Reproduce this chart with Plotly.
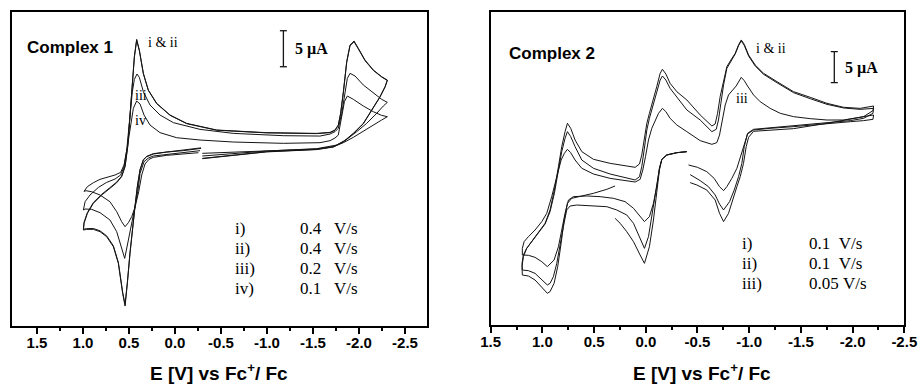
import plotly.graph_objects as go

# ---------------- Complex 1 (potential in V vs Fc+/Fc, current in µA) ----------------
E_c1_i = [-0.283,-0.091,0.091,0.236,0.308,0.344,0.380,0.409,0.435,0.460,0.489,0.518,0.543,0.569,0.616,0.670,0.743,0.815,0.888,0.960,0.996,
          0.989,0.953,0.888,0.797,0.707,0.634,0.580,0.543,0.514,0.489,0.464,0.442,0.417,0.388,0.344,0.290,0.199,0.054,-0.127,-0.453,
          -0.996,-1.540,-1.685,-1.739,-1.775,-1.800,-1.830,-1.866,-1.902,-1.946,-1.993,-2.065,-2.156,-2.246,-2.308,
          -2.283,-2.228,-2.138,-2.047,-1.938,-1.830,-1.721,-1.540,-0.996,-0.634,-0.297]
I_c1_i = [0.23,-0.09,-0.28,-0.56,-0.93,-1.39,-2.78,-5.09,-7.87,-10.65,-14.35,-18.52,-21.67,-19.91,-15.74,-13.43,-12.04,-11.34,-11.02,-11.02,-11.11,
          -10.19,-8.80,-7.41,-6.25,-5.32,-4.54,-3.70,-2.31,0.46,5.09,9.26,12.96,15.37,13.89,10.65,8.33,6.48,4.86,3.70,2.78,
          2.41,2.31,2.45,2.78,3.47,5.09,8.10,12.27,14.58,15.14,14.12,12.50,11.11,10.19,9.72,
          8.80,7.41,5.56,3.70,2.31,1.16,0.46,0.09,-0.23,-0.69,-1.16]

E_c1_ii = E_c1_i
I_c1_ii = [0.30,-0.02,-0.22,-0.50,-0.88,-1.33,-2.70,-5.00,-7.80,-10.55,-14.20,-18.35,-21.45,-19.75,-15.60,-13.30,-11.92,-11.22,-10.90,-10.92,-11.00,
           -10.05,-8.70,-7.30,-6.15,-5.22,-4.45,-3.62,-2.22,0.55,5.15,9.30,12.90,15.25,13.80,10.58,8.28,6.43,4.82,3.66,2.75,
           2.38,2.28,2.42,2.74,3.42,5.02,8.00,12.15,14.48,15.04,14.03,12.42,11.05,10.14,9.66,
           8.74,7.35,5.50,3.65,2.27,1.12,0.42,0.06,-0.26,-0.72,-1.20]

E_c1_iii = [-0.272,-0.091,0.091,0.236,0.290,0.337,0.380,0.402,0.435,0.471,0.507,0.547,0.580,0.634,0.707,0.815,0.906,0.978,0.996,
            0.978,0.924,0.833,0.743,0.652,0.591,0.554,0.525,0.489,0.464,0.442,0.413,0.388,0.344,0.272,0.163,0.018,-0.272,-0.634,-1.178,
            -1.576,-1.685,-1.739,-1.775,-1.812,-1.848,-1.873,-1.902,-1.957,-2.047,-2.156,-2.246,-2.308,
            -2.264,-2.192,-2.083,-1.975,-1.866,-1.757,-1.540,-0.996,-0.634,-0.297]
I_c1_iii = [-0.09,-0.37,-0.56,-0.83,-1.11,-1.62,-3.24,-5.56,-7.87,-9.95,-12.50,-15.05,-13.66,-11.34,-9.72,-8.70,-8.24,-8.19,-8.33,
            -7.18,-6.25,-5.19,-4.49,-4.03,-3.47,-2.31,0.0,4.63,8.10,9.81,10.56,10.09,8.10,6.25,4.86,3.80,2.87,2.31,1.99,
            1.94,2.22,2.55,3.01,5.09,8.33,9.95,10.65,10.28,9.03,7.87,7.04,6.62,
            6.11,5.09,3.70,2.55,1.48,0.69,0.19,-0.14,-0.46,-0.83]

E_c1_iv = [-0.254,-0.091,0.091,0.236,0.283,0.326,0.362,0.395,0.435,0.471,0.507,0.543,0.580,0.634,0.707,0.815,0.906,0.967,0.989,
           0.953,0.888,0.815,0.725,0.652,0.591,0.554,0.518,0.482,0.453,0.417,0.380,0.337,0.272,0.163,-0.018,-0.272,-0.634,-1.178,-1.576,
           -1.685,-1.739,-1.775,-1.812,-1.841,-1.873,-1.938,-2.047,-2.156,-2.246,-2.308,
           -2.246,-2.156,-2.047,-1.938,-1.830,-1.721,-1.540,-0.996,-0.634,-0.297]
I_c1_iv = [-0.37,-0.56,-0.74,-1.02,-1.30,-1.94,-3.47,-5.79,-7.96,-9.26,-10.09,-10.65,-9.95,-8.56,-7.18,-6.25,-5.79,-5.65,-5.74,
           -5.09,-4.54,-4.07,-3.70,-3.47,-3.10,-2.08,0.46,3.70,5.79,6.81,6.39,4.86,3.47,2.41,1.71,1.39,1.11,0.93,1.02,
           1.30,1.67,2.08,4.63,6.71,7.50,7.04,6.11,5.32,4.81,4.63,
           4.17,3.47,2.55,1.76,1.02,0.46,0.14,-0.09,-0.28,-0.46]

# ---------------- Complex 2 ----------------
E_c2_i = [-0.397,-0.300,-0.203,-0.155,-0.132,-0.106,-0.074,-0.035,0.013,0.055,0.119,0.184,0.248,0.297,
          None,
          0.297,0.377,0.506,0.635,0.716,0.758,0.790,0.819,0.852,0.887,0.926,0.952,1.006,1.071,1.135,1.194,
          1.197,1.184,1.152,1.103,1.039,0.974,0.926,0.884,0.845,0.813,0.781,0.758,0.726,0.684,0.619,0.506,0.345,0.184,0.103,0.061,
          0.039,0.016,-0.010,-0.035,-0.068,-0.106,-0.139,-0.161,-0.194,-0.235,-0.300,-0.397,-0.526,-0.639,-0.671,-0.694,-0.719,-0.752,-0.784,-0.823,
          -0.865,-0.897,-0.923,-0.952,-0.994,-1.058,-1.139,-1.268,-1.429,-1.590,-1.752,-1.913,-2.074,-2.203,
          -2.197,-2.106,-1.977,-1.752,-1.429,-1.203,-1.042,-0.994,-0.971,-0.945,-0.913,-0.881,-0.842,-0.800,-0.752,-0.713,-0.671,-0.590,-0.494,-0.429]
I_c2_i = [7.80,7.63,7.26,6.56,4.84,1.08,-3.23,-7.53,-10.22,-8.87,-6.72,-5.11,-3.76,-2.96,
          None,
          2.26,1.72,1.08,0.65,0.27,-0.54,-3.23,-6.99,-10.75,-13.44,-14.78,-15.05,-14.09,-12.90,-12.26,-12.10,
          -10.75,-9.14,-7.80,-6.72,-5.38,-3.76,-1.61,1.61,5.38,8.60,11.02,12.37,11.56,9.68,7.80,6.56,5.91,5.54,5.27,5.81,
          7.26,9.68,12.37,13.98,15.86,18.28,20.43,21.08,20.32,18.82,17.47,16.13,13.71,11.94,12.26,13.98,16.67,19.35,21.51,22.58,
          23.66,25.00,25.81,25.11,23.39,21.77,20.43,19.09,17.47,16.56,15.59,14.95,14.78,15.16,
          14.41,13.44,13.01,12.37,11.51,11.29,11.08,10.11,8.60,5.91,3.76,2.15,0.0,-2.15,-3.49,-2.15,0.0,1.61,2.42,2.80]

E_c2_ii = [-0.397,-0.300,-0.203,-0.155,-0.132,-0.113,-0.090,-0.058,-0.026,0.013,0.055,0.119,0.184,0.281,0.377,0.506,0.668,0.732,0.765,0.797,
           0.829,0.861,0.894,0.926,0.952,1.006,1.071,1.135,1.194,
           1.197,1.184,1.152,1.103,1.039,0.974,0.926,0.884,0.845,0.813,0.781,0.758,0.726,0.684,0.619,0.506,0.345,0.184,0.103,0.061,
           0.039,0.016,-0.010,-0.035,-0.068,-0.106,-0.139,-0.161,-0.194,-0.235,-0.300,-0.397,-0.526,-0.639,-0.681,-0.703,-0.726,-0.752,-0.784,-0.823,
           -0.865,-0.897,-0.923,-0.952,-0.994,-1.058,-1.139,-1.268,-1.429,-1.590,-1.752,-1.913,-2.074,-2.203,
           -2.197,-2.106,-1.977,-1.752,-1.429,-1.203,-1.042,-0.984,-0.952,-0.929,-0.897,-0.855,-0.810,-0.752,-0.713,-0.671,-0.606,-0.526,-0.429]
I_c2_ii = [7.80,7.63,7.26,6.56,5.11,3.23,0.54,-2.69,-5.91,-7.80,-6.18,-3.76,-2.42,-1.61,-1.08,-0.91,-0.81,-0.97,-1.61,-4.30,
           -7.53,-10.22,-12.37,-13.44,-13.71,-12.90,-11.83,-11.40,-11.29,
           -10.22,-8.87,-7.80,-6.72,-5.38,-3.87,-1.88,1.08,4.84,7.80,9.95,11.02,10.22,8.60,6.45,5.11,4.19,3.49,3.23,3.76,
           5.38,8.06,11.29,13.17,15.05,17.47,19.35,20.00,19.35,18.01,16.56,14.52,12.90,11.02,11.40,12.90,15.59,18.55,21.24,22.47,
           23.55,24.89,25.65,24.95,23.23,21.61,20.27,18.92,17.31,16.34,15.43,14.84,14.62,14.78,
           13.98,13.17,12.80,12.47,11.94,11.61,11.40,10.75,8.60,5.91,3.76,1.61,-0.27,-1.61,-0.65,0.81,2.15,3.12,4.09]

E_c2_iii = [-0.397,-0.300,-0.203,-0.155,-0.132,-0.106,-0.074,-0.035,0.013,0.055,0.119,0.200,0.313,0.442,0.571,0.700,0.748,0.781,0.813,0.845,
            0.887,0.952,1.006,1.071,1.135,1.194,
            1.194,1.177,1.135,1.071,1.006,0.958,0.910,0.861,0.819,0.787,0.758,0.726,0.684,0.619,0.506,0.345,0.184,0.103,0.055,0.029,
            0.003,-0.026,-0.058,-0.090,-0.123,-0.161,-0.194,-0.235,-0.300,-0.397,-0.526,-0.639,-0.687,-0.713,-0.739,-0.768,-0.800,-0.832,-0.874,-0.923,
            -0.952,-0.984,-1.042,-1.106,-1.203,-1.300,-1.429,-1.590,-1.752,-1.913,-2.074,-2.203,
            -2.197,-2.106,-1.977,-1.752,-1.429,-1.203,-1.042,-0.984,-0.952,-0.919,-0.881,-0.832,-0.784,-0.752,-0.713,-0.661,-0.590,-0.500,-0.413]
I_c2_iii = [7.80,7.63,7.26,6.56,5.11,2.15,-0.54,-2.69,-3.49,-2.69,-1.34,-0.27,0.27,0.54,0.65,0.54,0.0,-2.15,-4.84,-7.53,
            -9.68,-10.75,-9.95,-9.25,-8.92,-8.87,
            -7.80,-6.72,-5.91,-4.84,-3.49,-2.15,0.54,3.76,6.45,7.53,8.17,7.63,6.45,5.11,4.19,3.49,3.06,2.90,3.33,4.84,
            6.99,9.68,11.56,12.90,13.98,14.78,14.25,13.17,12.10,11.02,9.57,8.98,9.25,10.48,12.90,15.32,16.94,17.63,18.39,19.78,
            19.25,18.39,16.94,15.86,14.78,13.98,13.44,13.12,12.90,12.90,13.33,13.71,
            13.01,12.80,12.63,12.26,11.83,11.56,11.29,10.65,8.87,6.99,5.11,3.49,2.15,1.51,2.15,3.49,4.57,5.27,5.65]

# ---------------- axes, labels, legends ----------------
tick_vals = [1.5, 1.0, 0.5, 0.0, -0.5, -1.0, -1.5, -2.0, -2.5]
tick_text = ["1.5", "1.0", "0.5", "0.0", "-0.5", "-1.0", "-1.5", "-2.0", "-2.5"]
minor_vals = [1.25, 0.75, 0.25, -0.25, -0.75, -1.25, -1.75, -2.25]

c1_roman = ["i)", "ii)", "iii)", "iv)"]
c1_rates = ["0.4\u00a0\u00a0\u00a0V/s", "0.4\u00a0\u00a0\u00a0V/s", "0.2\u00a0\u00a0\u00a0V/s", "0.1\u00a0\u00a0\u00a0V/s"]
c2_roman = ["i)", "ii)", "iii)"]
c2_rates = ["0.1\u00a0\u00a0V/s", "0.1\u00a0\u00a0V/s", "0.05\u00a0V/s"]

scale_c1 = dict(E=-1.178, I0=11.57, L=5.0, cap=0.038)
scale_c2 = dict(E=-1.823, I0=18.92, L=5.0, cap=0.034)

LINE = dict(color="#151515", width=1)
fig = go.Figure()

def add_curve(E, I, xa, ya):
    fig.add_trace(go.Scatter(x=E, y=I, mode="lines", line=LINE, xaxis=xa, yaxis=ya,
                             hoverinfo="skip", showlegend=False, connectgaps=False))

for E, I in [(E_c1_i, I_c1_i), (E_c1_ii, I_c1_ii), (E_c1_iii, I_c1_iii), (E_c1_iv, I_c1_iv)]:
    add_curve(E, I, "x", "y")
for E, I in [(E_c2_i, I_c2_i), (E_c2_ii, I_c2_ii), (E_c2_iii, I_c2_iii)]:
    add_curve(E, I, "x2", "y2")

def add_scale(s, xa, ya):
    e, i0, L, c = s["E"], s["I0"], s["L"], s["cap"]
    fig.add_trace(go.Scatter(x=[e, e, None, e - c, e + c, None, e - c, e + c],
                             y=[i0, i0 + L, None, i0, i0, None, i0 + L, i0 + L],
                             mode="lines", line=dict(color="#151515", width=1.3),
                             xaxis=xa, yaxis=ya, hoverinfo="skip", showlegend=False))

add_scale(scale_c1, "x", "y")
add_scale(scale_c2, "x2", "y2")

SANS = "Liberation Sans, Arial, sans-serif"
SERIF = "Liberation Serif, Times New Roman, serif"

def xaxis_cfg(domain, rng, anchor):
    return dict(domain=domain, range=rng, anchor=anchor, autorange=False,
                tickmode="array", tickvals=tick_vals, ticktext=tick_text,
                ticks="outside", ticklen=6, tickwidth=1.8, tickcolor="black",
                ticklabelstandoff=-4,
                minor=dict(tickmode="array", tickvals=minor_vals, ticks="outside",
                           ticklen=3, tickwidth=1.8, tickcolor="black", showgrid=False),
                tickfont=dict(family=SANS, size=15, color="black", weight="bold"),
                showline=True, linewidth=1.8, linecolor="black", mirror=True,
                showgrid=False, zeroline=False, automargin=False)

def yaxis_cfg(domain, rng, anchor):
    return dict(domain=domain, range=rng, anchor=anchor, autorange=False,
                showticklabels=False, ticks="", showline=True, linewidth=1.8,
                linecolor="black", mirror=True, showgrid=False, zeroline=False,
                automargin=False)

annotations = []

def txt(x, y, text, xref, yref, family, size, bold=False, xanchor="left"):
    annotations.append(dict(x=x, y=y, xref=xref, yref=yref, text=text, showarrow=False,
                            xanchor=xanchor, yanchor="middle",
                            font=dict(family=family, size=size, color="black",
                                      weight="bold" if bold else "normal")))

# Complex 1 texts
txt(1.63, 14.3, "Complex 1", "x", "y", SANS, 17, True)
txt(0.315, 14.9, "i & ii", "x", "y", SERIF, 14)
txt(0.457, 7.64, "iii", "x", "y", SERIF, 14)
txt(0.457, 4.17, "iv", "x", "y", SERIF, 14)
txt(-1.283, 14.03, "5 µA", "x", "y", SERIF, 16, True)
for k, (r, v) in enumerate(zip(c1_roman, c1_rates)):
    yy = -10.83 - k * 2.78
    txt(-0.630, yy, r, "x", "y", SERIF, 17)
    txt(-1.337, yy, v, "x", "y", SERIF, 17)

# Complex 2 texts
txt(1.345, 23.7, "Complex 2", "x2", "y2", SANS, 17, True)
txt(-1.046, 24.5, "i & ii", "x2", "y2", SERIF, 14)
txt(-0.853, 16.3, "iii", "x2", "y2", SERIF, 14)
txt(-1.907, 21.3, "5 µA", "x2", "y2", SERIF, 16, True)
for k, (r, v) in enumerate(zip(c2_roman, c2_rates)):
    yy = -6.94 - k * 3.23
    txt(-0.911, yy, r, "x2", "y2", SERIF, 17)
    txt(-1.556, yy, v, "x2", "y2", SERIF, 17)

# x-axis titles
txt(0.2383, 0.033, "E [V] vs Fc<sup>+</sup>/ Fc", "paper", "paper", SANS, 19, True, "center")
txt(0.7622, 0.033, "E [V] vs Fc<sup>+</sup>/ Fc", "paper", "paper", SANS, 19, True, "center")

fig.update_layout(
    width=921, height=385,
    margin=dict(l=0, r=0, t=0, b=0),
    paper_bgcolor="white", plot_bgcolor="white",
    showlegend=False, hovermode=False,
    xaxis=xaxis_cfg([0.01303, 0.46363], [1.772, -2.739], "y"),
    yaxis=yaxis_cfg([0.15325, 0.96883], [-24.44, 19.17], "x"),
    xaxis2=xaxis_cfg([0.53279, 0.98187], [1.5, -2.5], "y2"),
    yaxis2=yaxis_cfg([0.15584, 0.96883], [-20.16, 30.32], "x2"),
    annotations=annotations,
)

fig.write_html("out.html", config={"displayModeBar": False},
               post_script="document.body.style.margin='0';document.body.style.overflow='hidden';")
